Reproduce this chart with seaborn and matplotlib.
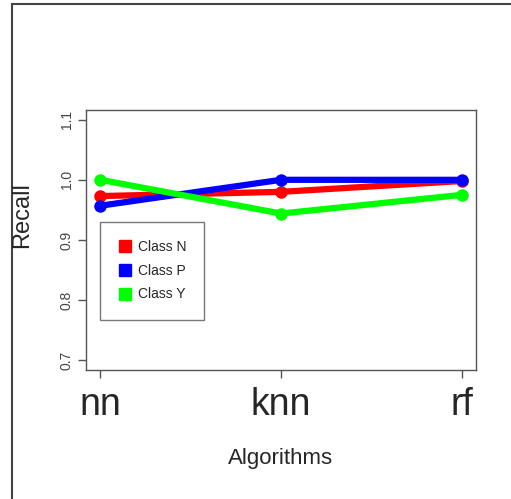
import pandas as pd
import numpy as np
import seaborn as sns
import matplotlib.pyplot as plt
from matplotlib.patches import Rectangle

algorithms = ["nn", "knn", "rf"]
class_n = [0.973, 0.980, 0.998]
class_p = [0.957, 1.000, 1.000]
class_y = [1.000, 0.944, 0.975]
classes = ["Class N", "Class P", "Class Y"]
colors = ["#ff0000", "#0000ff", "#00ff00"]

df = pd.DataFrame({
    "Algorithm": algorithms * 3,
    "pos": list(range(3)) * 3,
    "Recall": class_n + class_p + class_y,
    "Class": [c for c in classes for _ in algorithms],
})

sns.set_theme(style="ticks")
plt.rcParams['font.family'] = ['Liberation Sans', 'DejaVu Sans']

fig = plt.figure(figsize=(5.11, 4.99), dpi=100)
ax = fig.add_axes([86/511, 1-370/499, 390/511, 260/499])

h = sns.lineplot(data=df, x="pos", y="Recall", hue="Class", palette=colors,
                 marker="o", markersize=9, markeredgewidth=0, linewidth=4.5, ax=ax)

ax.set_xlim(-0.08, 2.08)
ax.set_ylim(0.684, 1.116)
ax.set_xticks(range(3))
ax.set_xticklabels(algorithms, fontsize=27)
ax.set_yticks([0.7, 0.8, 0.9, 1.0, 1.1])
ax.set_yticklabels(["0.7", "0.8", "0.9", "1.0", "1.1"], rotation=90, va="center",
                   fontsize=10, color="#444444")
ax.tick_params(axis="both", length=6, width=1, color="#555555")
ax.tick_params(axis="y", pad=3)
ax.tick_params(axis="x", pad=6)
for s in ax.spines.values():
    s.set_visible(True)
    s.set_color("#555555")
    s.set_linewidth(1)
ax.set_xlabel("Algorithms", fontsize=16, labelpad=18)
ax.set_ylabel("")
fig.text(22/511, 1-215/499, "Recall", rotation=90, fontsize=17, ha="center", va="center")

handles = [plt.Line2D([], [], marker="s", linestyle="", markersize=8, color=c) for c in colors]
leg = ax.legend(handles, classes, loc="upper left", bbox_to_anchor=(14/390, 1-112/260),
                borderaxespad=0, frameon=True, fancybox=False, fontsize=10,
                handlelength=1.0, handletextpad=0.4, borderpad=1.3, labelspacing=0.7,
                edgecolor="#555555")
leg.get_frame().set_linewidth(1)

fig.patches.append(Rectangle((12/511, -0.1), 1.2, 1.1 - 4/499, transform=fig.transFigure,
                             fill=False, edgecolor="#444444", linewidth=1.5))

fig.savefig("out.png", dpi=100)
